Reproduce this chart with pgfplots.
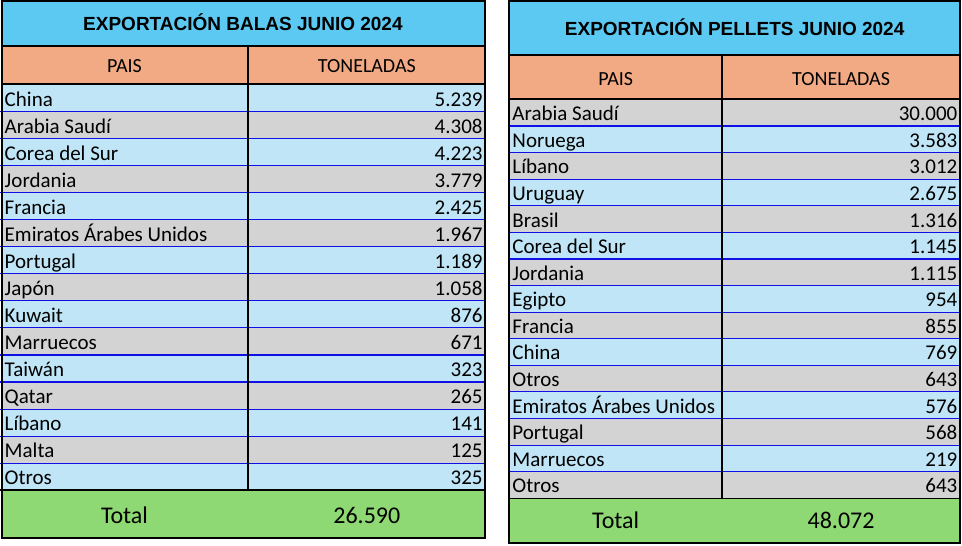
\documentclass[border=0pt]{standalone}
\usepackage{fontspec}
\setmainfont{Carlito}
\newfontfamily\titlefont{Liberation Sans}
\usepackage{pgfplots}
\usepackage{pgfplotstable}
\pgfplotsset{compat=1.18}
\definecolor{titleblue}{HTML}{5BC9F2}
\definecolor{headsalmon}{HTML}{F2AA84}
\definecolor{rowblue}{HTML}{BFE5F6}
\definecolor{rowgray}{HTML}{D3D3D3}
\definecolor{totgreen}{HTML}{8ED973}
\definecolor{lineblue}{HTML}{0F0FE6}

\pgfplotstableread[col sep=comma]{
i,name,val
0,China,5.239
1,Arabia Saudí,4.308
2,Corea del Sur,4.223
3,Jordania,3.779
4,Francia,2.425
5,Emiratos Árabes Unidos,1.967
6,Portugal,1.189
7,Japón,1.058
8,Kuwait,876
9,Marruecos,671
10,Taiwán,323
11,Qatar,265
12,Líbano,141
13,Malta,125
14,Otros,325
}\balas

\pgfplotstableread[col sep=comma]{
i,name,val
0,Arabia Saudí,30.000
1,Noruega,3.583
2,Líbano,3.012
3,Uruguay,2.675
4,Brasil,1.316
5,Corea del Sur,1.145
6,Jordania,1.115
7,Egipto,954
8,Francia,855
9,China,769
10,Otros,643
11,Emiratos Árabes Unidos,576
12,Portugal,568
13,Marruecos,219
14,Otros,643
}\pellets

\newcommand\cell[5]{\addplot[fill=#1,draw=none] coordinates {(#2,#3)(#4,#3)(#4,#5)(#2,#5)} -- cycle;}
\newcommand\hl[4]{\addplot[#1] coordinates {(#2,#4)(#3,#4)};}
\newcommand\vl[4]{\addplot[#1] coordinates {(#2,#3)(#2,#4)};}

\begin{document}
\begin{tikzpicture}
\begin{axis}[
  width=962bp, height=545bp, scale only axis,
  xmin=0, xmax=962, ymin=0, ymax=545, y dir=reverse,
  hide axis, clip=false,
  every axis plot/.append style={line cap=rect},
]
% background
\cell{white}{0}{0}{962}{545}
% ---------- left table fills
\cell{titleblue}{0}{0}{485}{46}
\cell{headsalmon}{0}{46}{485}{84}
\cell{rowblue}{0}{84}{485}{490}
\cell{rowgray}{0}{111.07}{485}{138.13}
\cell{rowgray}{0}{165.2}{485}{192.27}
\cell{rowgray}{0}{219.33}{485}{246.4}
\cell{rowgray}{0}{273.47}{485}{300.53}
\cell{rowgray}{0}{327.6}{485}{354.67}
\cell{rowgray}{0}{381.73}{485}{408.8}
\cell{rowgray}{0}{435.87}{485}{462.93}
\cell{totgreen}{0}{490}{485}{538}
% ---------- right table fills
\cell{titleblue}{509}{0}{960}{55}
\cell{headsalmon}{509}{55}{960}{99}
\cell{rowgray}{509}{99}{960}{498}
\cell{rowblue}{509}{125.6}{960}{152.2}
\cell{rowblue}{509}{178.8}{960}{205.4}
\cell{rowblue}{509}{232}{960}{258.6}
\cell{rowblue}{509}{285.2}{960}{311.8}
\cell{rowblue}{509}{338.4}{960}{365}
\cell{rowblue}{509}{391.6}{960}{418.2}
\cell{rowblue}{509}{444.8}{960}{471.4}
\cell{totgreen}{509}{498}{960}{543}
% ---------- blue row lines, left
\pgfplotsinvokeforeach{111.07,138.13,165.2,192.27,219.33,246.4,273.47,300.53,327.6,354.67,381.73,408.8,435.87,462.93}{
  \hl{lineblue,line width=1.1bp}{0}{485}{#1}
}
% ---------- blue row lines, right
\pgfplotsinvokeforeach{125.6,152.2,178.8,205.4,232,258.6,285.2,311.8,338.4,365,391.6,418.2,444.8,471.4}{
  \hl{lineblue,line width=1.1bp}{509}{960}{#1}
}
% ---------- black lines, left
\hl{black,line width=2bp}{1}{485}{0.5}
\hl{black,line width=2bp}{1}{485}{46}
\hl{black,line width=2bp}{1}{485}{84}
\hl{black,line width=2.2bp}{1}{485}{490}
\hl{black,line width=2bp}{1}{485}{537.5}
\vl{black,line width=2bp}{1}{0.5}{537.5}
\vl{black,line width=2bp}{485}{0.5}{537.5}
\vl{black,line width=2bp}{248}{46}{490}
% ---------- black lines, right
\hl{black,line width=2bp}{509}{960}{0.5}
\hl{black,line width=2bp}{509}{960}{55}
\hl{black,line width=2bp}{509}{960}{99}
\hl{black,line width=1bp}{509}{960}{498}
\hl{black,line width=2bp}{509}{960}{543}
\vl{black,line width=2bp}{509}{0.5}{543}
\vl{black,line width=2bp}{960}{0.5}{543}
\vl{black,line width=1.5bp}{722}{55}{498}
% ---------- titles
\addplot[draw=none, nodes near coords, point meta=explicit symbolic,
  nodes near coords style={anchor=base, inner sep=0pt, text=black,
  font=\titlefont\bfseries\fontsize{19bp}{22bp}\selectfont}]
  table[col sep=comma, meta=t] {
x,y,t
242.5,30,EXPORTACIÓN BALAS JUNIO 2024
734.5,35,EXPORTACIÓN PELLETS JUNIO 2024
};
% ---------- headers
\addplot[draw=none, nodes near coords, point meta=explicit symbolic,
  nodes near coords style={anchor=base, inner sep=0pt, text=black,
  font=\fontsize{20bp}{22bp}\selectfont}]
  table[col sep=comma, meta=t] {
x,y,t
124,72.5,PAIS
366.5,72.5,TONELADAS
615.5,85.5,PAIS
841,85.5,TONELADAS
};
% ---------- totals
\addplot[draw=none, nodes near coords, point meta=explicit symbolic,
  nodes near coords style={anchor=base, inner sep=0pt, text=black,
  font=\fontsize{24bp}{28bp}\selectfont}]
  table[col sep=comma, meta=t] {
x,y,t
124,523.5,Total
366.5,523.5,26.590
615.5,528.5,Total
841,528.5,48.072
};
% ---------- left table text
\addplot[draw=none, nodes near coords, point meta=explicit symbolic,
  nodes near coords style={anchor=base west, inner sep=0pt, text=black,
  font=\fontsize{21bp}{24bp}\selectfont}]
  table[x expr=4, y expr={84+27.0667*\thisrow{i}+21.8}, meta=name] {\balas};
\addplot[draw=none, nodes near coords, point meta=explicit symbolic,
  nodes near coords style={anchor=base east, inner sep=0pt, text=black,
  font=\fontsize{21bp}{24bp}\selectfont}]
  table[x expr=482.5, y expr={84+27.0667*\thisrow{i}+21.8}, meta=val] {\balas};
% ---------- right table text
\addplot[draw=none, nodes near coords, point meta=explicit symbolic,
  nodes near coords style={anchor=base west, inner sep=0pt, text=black,
  font=\fontsize{21bp}{24bp}\selectfont}]
  table[x expr=512, y expr={99+26.6*\thisrow{i}+21.3}, meta=name] {\pellets};
\addplot[draw=none, nodes near coords, point meta=explicit symbolic,
  nodes near coords style={anchor=base east, inner sep=0pt, text=black,
  font=\fontsize{21bp}{24bp}\selectfont}]
  table[x expr=957.5, y expr={99+26.6*\thisrow{i}+21.3}, meta=val] {\pellets};
\end{axis}
\end{tikzpicture}
\end{document}
